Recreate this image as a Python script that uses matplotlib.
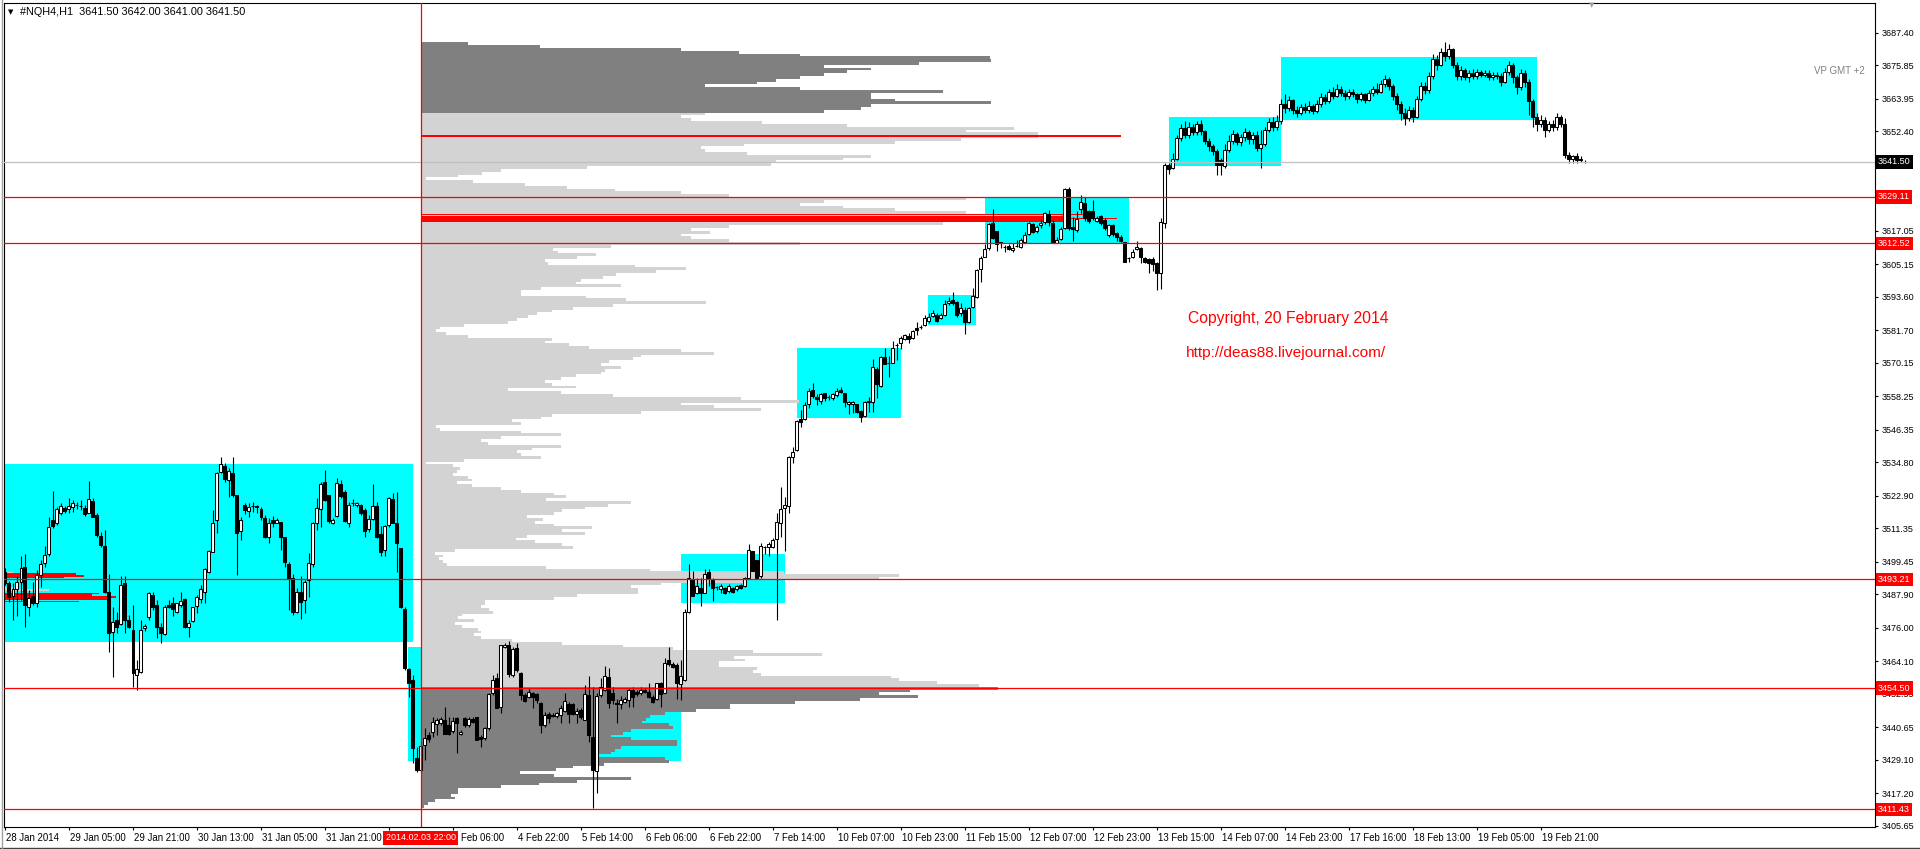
import numpy as np
import matplotlib
matplotlib.use('Agg')
import matplotlib.pyplot as plt
from matplotlib.patches import Rectangle
from matplotlib.lines import Line2D
from matplotlib.transforms import blended_transform_factory

plt.rcParams['font.family'] = ['Liberation Sans', 'DejaVu Sans']

# ---- #NQH4 hourly bars (28 Jan - 20 Feb 2014) ----
bar_open = [
    3495.9, 3491.8, 3487.3, 3489.8, 3492.4, 3497.7, 3483.5, 3487.3, 3484.7, 3494.7,
    3499.1, 3502.1, 3514.3, 3513.3, 3516.9, 3518.7, 3518.1, 3519.0, 3519.6, 3519.3,
    3518.4, 3516.9, 3521.0, 3516.1, 3508.7, 3505.0, 3488.8, 3474.6, 3478.8, 3477.3,
    3491.8, 3478.8, 3475.2, 3459.2, 3460.4, 3475.8, 3479.7, 3487.6, 3484.1, 3476.2,
    3473.8, 3484.1, 3484.7, 3481.4, 3484.0, 3486.1, 3476.2, 3478.3, 3483.7, 3486.1,
    3488.8, 3495.9, 3503.0, 3514.3, 3531.4, 3533.5, 3528.3, 3530.9, 3523.2, 3510.5,
    3519.6, 3517.6, 3519.3, 3519.0, 3518.1, 3515.1, 3508.4, 3514.3, 3513.3, 3513.5,
    3508.1, 3498.6, 3493.6, 3481.4, 3488.8, 3485.9, 3493.0, 3498.6, 3513.3, 3518.1,
    3527.7, 3523.2, 3513.3, 3515.7, 3527.0, 3524.3, 3513.3, 3520.2, 3519.5, 3519.6,
    3517.8, 3511.0, 3514.5, 3519.4, 3509.3, 3503.6, 3512.5, 3521.7, 3513.1, 3504.2,
    3482.7, 3461.2, 3457.4, 3429.6, 3425.5, 3434.3, 3437.9, 3439.0, 3441.8, 3442.0,
    3443.2, 3441.4, 3439.4, 3443.8, 3438.2, 3443.8, 3441.4, 3443.6, 3444.2, 3437.1,
    3436.7, 3440.2, 3452.7, 3458.0, 3447.9, 3469.0, 3469.9, 3459.2, 3468.7, 3460.0,
    3452.1, 3451.5, 3452.9, 3452.4, 3449.4, 3441.4, 3445.3, 3445.0, 3444.6, 3445.0,
    3446.5, 3448.9, 3448.9, 3445.3, 3446.8, 3443.2, 3452.1, 3437.3, 3425.2, 3452.1,
    3453.9, 3458.6, 3452.7, 3449.4, 3448.9, 3449.7, 3450.3, 3453.9, 3453.3, 3452.7,
    3453.9, 3453.3, 3451.5, 3450.5, 3456.5, 3452.9, 3464.5, 3463.1, 3462.7, 3456.0,
    3457.4, 3481.4, 3493.0, 3488.2, 3490.2, 3488.5, 3495.7, 3493.0, 3490.6, 3489.8,
    3490.2, 3489.0, 3490.0, 3489.7, 3491.2, 3490.8, 3493.6, 3503.4, 3500.1, 3494.2,
    3504.8, 3504.6, 3504.8, 3507.4, 3513.1, 3518.4, 3519.2, 3536.5, 3539.1, 3550.2,
    3550.0, 3555.4, 3560.5, 3558.1, 3556.7, 3559.5, 3558.1, 3557.5, 3558.7, 3560.5,
    3559.3, 3555.5, 3555.5, 3555.5, 3553.0, 3551.3, 3556.1, 3556.3, 3567.9, 3561.9,
    3572.3, 3570.0, 3570.2, 3576.5, 3577.0, 3578.5, 3579.6, 3578.8, 3582.4, 3582.7,
    3583.5, 3585.1, 3586.7, 3587.1, 3585.9, 3587.1, 3591.2, 3592.4, 3591.8, 3587.7,
    3588.9, 3584.7, 3589.8, 3593.6, 3603.3, 3607.8, 3611.0, 3619.9, 3617.0, 3612.8,
    3611.2, 3611.7, 3610.2, 3611.6, 3611.4, 3613.2, 3615.9, 3619.4, 3617.0, 3619.1,
    3620.3, 3622.9, 3619.7, 3612.8, 3614.0, 3617.9, 3631.7, 3618.3, 3617.3, 3624.6,
    3627.0, 3624.2, 3624.0, 3620.6, 3622.3, 3620.9, 3615.5, 3619.1, 3616.1, 3614.9,
    3613.2, 3607.3, 3607.8, 3610.6, 3610.8, 3607.2, 3606.9, 3606.9, 3605.7, 3602.1,
    3619.7, 3640.4, 3639.2, 3642.4, 3650.0, 3653.5, 3651.0, 3654.0, 3652.0, 3655.0,
    3652.5, 3649.0, 3647.0, 3645.5, 3642.0, 3640.0, 3645.7, 3649.0, 3651.5, 3648.5,
    3650.5, 3652.0, 3649.5, 3651.0, 3646.5, 3648.0, 3653.0, 3655.5, 3654.0, 3656.0,
    3662.0, 3660.5, 3663.5, 3660.0, 3659.0, 3661.0, 3660.0, 3661.5, 3659.5, 3662.0,
    3664.5, 3663.0, 3666.5, 3665.0, 3667.5, 3666.0, 3665.0, 3666.5, 3665.5, 3664.0,
    3665.5, 3663.5, 3666.0, 3667.5, 3666.5, 3669.0, 3671.0, 3668.5, 3665.0, 3662.0,
    3659.0, 3657.0, 3660.0, 3657.5, 3664.0, 3668.5, 3667.0, 3672.0, 3678.0, 3676.0,
    3680.5, 3679.0, 3681.5, 3676.0, 3672.0, 3674.0, 3671.5, 3673.0, 3672.0, 3673.5,
    3672.5, 3673.0, 3671.5, 3672.5, 3672.0, 3670.0, 3673.5, 3676.0, 3671.5, 3668.0,
    3673.0, 3670.0, 3663.0, 3657.5, 3655.0, 3656.5, 3653.0, 3655.0, 3654.0, 3657.5,
    3655.0, 3644.0, 3642.5, 3643.5, 3642.0, 3641.5]
bar_high = [
    3497.1, 3492.5, 3491.8, 3494.2, 3501.3, 3502.2, 3489.4, 3492.4, 3496.5, 3500.1,
    3505.0, 3515.5, 3524.7, 3519.0, 3520.2, 3519.3, 3522.0, 3521.4, 3520.8, 3521.4,
    3519.6, 3528.1, 3522.0, 3516.6, 3510.1, 3510.7, 3495.1, 3483.5, 3481.7, 3494.2,
    3494.4, 3480.5, 3484.1, 3464.6, 3478.8, 3477.3, 3488.8, 3488.8, 3485.9, 3477.8,
    3484.1, 3485.9, 3487.0, 3484.9, 3488.8, 3486.5, 3478.8, 3483.5, 3487.6, 3491.2,
    3497.1, 3503.6, 3517.8, 3531.4, 3536.5, 3534.4, 3532.6, 3536.5, 3523.2, 3515.5,
    3520.2, 3520.2, 3520.8, 3519.6, 3518.8, 3516.1, 3514.9, 3515.7, 3514.9, 3513.7,
    3508.4, 3499.5, 3495.1, 3490.0, 3494.2, 3493.0, 3502.7, 3513.7, 3522.0, 3527.9,
    3532.0, 3523.2, 3514.9, 3529.1, 3528.5, 3524.9, 3520.8, 3521.6, 3520.8, 3520.0,
    3518.4, 3516.1, 3527.1, 3520.8, 3512.2, 3512.5, 3522.3, 3524.0, 3524.3, 3504.2,
    3483.5, 3461.6, 3459.2, 3433.7, 3435.5, 3440.2, 3439.1, 3444.4, 3443.8, 3444.2,
    3447.9, 3444.4, 3444.2, 3444.2, 3439.6, 3444.4, 3444.4, 3444.2, 3444.4, 3437.9,
    3440.8, 3452.7, 3459.2, 3459.8, 3469.9, 3470.7, 3471.4, 3469.0, 3470.4, 3460.4,
    3452.7, 3454.5, 3453.3, 3452.7, 3449.7, 3446.2, 3446.2, 3445.6, 3446.2, 3448.5,
    3452.9, 3449.7, 3449.4, 3447.4, 3447.4, 3455.6, 3458.8, 3455.1, 3452.7, 3458.0,
    3462.4, 3461.6, 3455.0, 3450.5, 3451.7, 3451.3, 3454.5, 3455.1, 3453.9, 3455.1,
    3454.5, 3456.2, 3452.1, 3456.5, 3456.8, 3465.1, 3469.0, 3463.9, 3463.3, 3464.5,
    3482.5, 3498.5, 3496.3, 3493.6, 3493.6, 3496.8, 3496.9, 3493.6, 3490.8, 3491.5,
    3490.6, 3491.5, 3490.4, 3491.2, 3491.5, 3493.9, 3505.7, 3503.4, 3500.1, 3506.2,
    3505.0, 3506.6, 3507.8, 3516.9, 3526.1, 3522.6, 3537.0, 3540.1, 3549.8, 3553.4,
    3556.3, 3561.0, 3563.1, 3558.9, 3559.5, 3559.5, 3558.7, 3559.3, 3561.0, 3561.6,
    3559.5, 3556.7, 3556.7, 3555.5, 3553.3, 3556.7, 3558.1, 3571.4, 3568.5, 3572.5,
    3575.3, 3572.5, 3577.9, 3577.3, 3579.6, 3580.3, 3580.6, 3581.8, 3584.7, 3583.5,
    3587.1, 3587.7, 3588.9, 3587.7, 3587.7, 3592.4, 3593.4, 3595.4, 3592.2, 3591.2,
    3590.1, 3590.1, 3596.6, 3603.3, 3608.1, 3612.3, 3619.7, 3624.6, 3617.0, 3613.2,
    3612.0, 3612.3, 3612.6, 3613.7, 3614.3, 3616.7, 3620.3, 3619.9, 3619.1, 3621.1,
    3623.8, 3624.4, 3620.9, 3614.7, 3618.5, 3632.1, 3632.5, 3622.0, 3624.2, 3629.7,
    3629.1, 3624.4, 3628.0, 3622.3, 3622.6, 3621.4, 3619.4, 3619.4, 3616.7, 3615.5,
    3613.2, 3607.8, 3610.4, 3613.5, 3611.1, 3607.8, 3607.2, 3607.8, 3606.1, 3621.4,
    3641.2, 3641.2, 3644.5, 3651.0, 3655.0, 3656.0, 3655.5, 3655.0, 3656.0, 3656.5,
    3653.0, 3650.0, 3648.0, 3646.0, 3643.0, 3648.0, 3651.0, 3653.0, 3652.0, 3651.5,
    3653.5, 3653.0, 3652.0, 3652.5, 3653.0, 3654.0, 3657.0, 3657.5, 3658.0, 3664.0,
    3665.5, 3665.0, 3664.0, 3661.5, 3662.0, 3662.5, 3663.0, 3662.0, 3663.5, 3666.0,
    3665.5, 3667.5, 3668.0, 3669.0, 3668.5, 3667.0, 3667.5, 3667.5, 3666.0, 3666.5,
    3666.0, 3667.0, 3668.5, 3669.5, 3670.5, 3672.5, 3671.5, 3669.0, 3666.0, 3663.0,
    3660.5, 3661.5, 3661.0, 3665.0, 3670.0, 3670.0, 3673.5, 3680.0, 3679.5, 3682.0,
    3684.0, 3683.5, 3682.0, 3677.0, 3675.5, 3675.0, 3674.0, 3674.5, 3674.5, 3674.0,
    3674.0, 3674.0, 3673.5, 3673.5, 3673.0, 3675.0, 3677.5, 3676.5, 3672.5, 3674.5,
    3674.0, 3671.0, 3664.0, 3659.0, 3658.0, 3657.5, 3656.0, 3656.5, 3659.0, 3658.0,
    3657.0, 3645.0, 3644.0, 3644.5, 3643.5, 3642.0]
bar_low = [
    3491.2, 3485.3, 3478.8, 3480.0, 3485.9, 3476.4, 3480.0, 3484.1, 3483.5, 3490.6,
    3497.7, 3501.3, 3511.3, 3512.5, 3516.1, 3516.9, 3516.6, 3517.2, 3518.1, 3517.8,
    3515.7, 3516.6, 3515.5, 3508.4, 3504.8, 3488.2, 3467.2, 3458.6, 3474.0, 3477.0,
    3474.0, 3475.8, 3455.1, 3453.9, 3459.8, 3475.0, 3478.8, 3482.3, 3472.2, 3470.7,
    3473.4, 3482.9, 3480.0, 3481.1, 3483.5, 3475.8, 3472.6, 3477.9, 3481.1, 3484.7,
    3484.7, 3495.6, 3503.0, 3509.5, 3530.9, 3527.9, 3522.6, 3522.6, 3494.7, 3507.2,
    3516.3, 3515.5, 3517.2, 3516.6, 3514.3, 3507.8, 3506.0, 3511.9, 3513.1, 3503.6,
    3497.5, 3482.3, 3480.5, 3481.1, 3479.0, 3481.1, 3487.0, 3497.7, 3510.7, 3511.9,
    3521.1, 3513.1, 3512.9, 3515.5, 3522.0, 3513.7, 3511.9, 3519.3, 3519.0, 3516.1,
    3508.4, 3510.1, 3514.3, 3507.8, 3501.5, 3501.5, 3511.9, 3513.1, 3495.9, 3482.9,
    3461.0, 3451.5, 3427.8, 3424.9, 3424.3, 3429.0, 3435.5, 3437.3, 3437.9, 3441.4,
    3438.2, 3437.9, 3438.5, 3431.4, 3437.9, 3440.8, 3440.8, 3442.1, 3436.1, 3433.7,
    3436.1, 3439.6, 3452.1, 3447.4, 3445.6, 3468.7, 3458.6, 3458.6, 3460.4, 3450.3,
    3449.7, 3450.9, 3447.4, 3449.1, 3438.7, 3440.8, 3442.3, 3444.2, 3443.8, 3442.0,
    3446.2, 3442.0, 3445.0, 3442.0, 3443.4, 3443.2, 3435.5, 3411.8, 3417.2, 3451.5,
    3453.6, 3447.4, 3448.9, 3442.3, 3447.0, 3449.1, 3448.0, 3448.0, 3451.7, 3452.1,
    3452.9, 3450.9, 3449.4, 3450.3, 3448.0, 3452.7, 3462.4, 3461.6, 3450.5, 3450.3,
    3457.2, 3481.1, 3487.1, 3488.0, 3483.7, 3488.2, 3490.8, 3485.6, 3489.4, 3488.2,
    3488.0, 3488.2, 3488.5, 3489.1, 3489.7, 3490.6, 3493.2, 3496.0, 3493.6, 3493.6,
    3502.2, 3501.5, 3504.2, 3478.8, 3508.1, 3503.4, 3516.9, 3534.4, 3538.9, 3547.4,
    3549.8, 3554.0, 3557.5, 3555.1, 3555.5, 3556.7, 3556.9, 3556.9, 3558.1, 3559.3,
    3554.3, 3552.0, 3552.2, 3552.2, 3549.2, 3550.7, 3552.8, 3552.8, 3557.7, 3561.6,
    3569.6, 3565.0, 3569.9, 3571.1, 3574.9, 3578.2, 3577.3, 3578.5, 3580.0, 3582.0,
    3583.2, 3584.4, 3586.5, 3584.7, 3585.6, 3586.7, 3590.6, 3590.6, 3586.5, 3586.9,
    3580.4, 3584.2, 3589.5, 3593.1, 3598.9, 3607.6, 3610.2, 3614.0, 3610.0, 3610.8,
    3609.6, 3610.2, 3609.6, 3611.1, 3610.8, 3612.6, 3615.5, 3616.4, 3616.4, 3617.9,
    3619.4, 3618.7, 3612.8, 3612.6, 3613.7, 3617.5, 3617.3, 3613.5, 3616.7, 3623.2,
    3620.6, 3619.9, 3620.9, 3620.3, 3619.1, 3617.3, 3614.9, 3615.2, 3613.5, 3613.2,
    3606.1, 3606.1, 3607.2, 3610.2, 3605.5, 3605.5, 3601.9, 3602.9, 3596.0, 3596.2,
    3617.9, 3637.2, 3638.9, 3642.0, 3649.0, 3650.0, 3650.0, 3651.0, 3651.0, 3651.0,
    3648.0, 3645.5, 3644.0, 3636.8, 3636.8, 3639.5, 3645.0, 3648.0, 3647.5, 3647.0,
    3649.0, 3648.0, 3648.0, 3645.5, 3639.2, 3647.0, 3652.0, 3652.5, 3653.0, 3655.0,
    3659.0, 3659.5, 3658.5, 3657.5, 3658.0, 3659.0, 3659.0, 3658.5, 3659.0, 3661.0,
    3662.0, 3662.5, 3664.0, 3664.5, 3665.0, 3663.5, 3664.0, 3664.5, 3662.5, 3663.0,
    3662.5, 3663.0, 3665.0, 3665.5, 3666.0, 3668.0, 3667.0, 3663.5, 3660.0, 3656.5,
    3654.5, 3656.0, 3655.5, 3657.0, 3663.0, 3665.5, 3666.0, 3671.0, 3674.0, 3675.5,
    3677.5, 3678.0, 3675.0, 3670.5, 3670.5, 3670.5, 3670.0, 3671.0, 3671.0, 3671.5,
    3671.5, 3670.5, 3670.5, 3671.0, 3668.5, 3669.5, 3672.5, 3669.5, 3665.5, 3667.0,
    3668.0, 3658.0, 3654.0, 3652.5, 3654.0, 3650.5, 3652.0, 3652.5, 3653.0, 3654.0,
    3643.0, 3641.0, 3641.0, 3641.0, 3641.5, 3641.0]
bar_close = [
    3491.8, 3487.0, 3489.7, 3492.1, 3497.1, 3484.1, 3486.5, 3484.9, 3494.7, 3498.5,
    3501.8, 3511.7, 3512.1, 3518.1, 3519.3, 3517.6, 3519.3, 3520.2, 3519.7, 3519.2,
    3516.4, 3521.6, 3515.5, 3509.0, 3505.4, 3488.8, 3474.0, 3478.2, 3476.2, 3491.0,
    3478.8, 3476.4, 3459.8, 3461.2, 3475.2, 3476.6, 3488.2, 3483.5, 3476.4, 3474.0,
    3483.3, 3483.5, 3482.5, 3484.7, 3485.6, 3476.4, 3477.6, 3483.3, 3487.0, 3489.7,
    3496.8, 3503.4, 3513.3, 3530.9, 3534.1, 3528.7, 3531.7, 3523.2, 3509.8, 3514.3,
    3517.8, 3519.0, 3519.4, 3519.1, 3515.5, 3508.1, 3513.3, 3513.1, 3514.3, 3508.4,
    3499.5, 3493.2, 3481.7, 3488.6, 3485.3, 3492.4, 3499.1, 3513.1, 3518.4, 3527.1,
    3521.4, 3514.0, 3514.3, 3527.5, 3522.8, 3513.9, 3519.6, 3520.3, 3520.2, 3516.9,
    3510.5, 3514.5, 3519.3, 3508.4, 3503.0, 3512.2, 3522.0, 3513.3, 3506.0, 3483.5,
    3461.6, 3456.5, 3433.2, 3425.5, 3434.0, 3436.7, 3436.5, 3442.4, 3443.2, 3443.4,
    3438.2, 3438.2, 3443.0, 3442.0, 3439.0, 3441.4, 3443.4, 3442.6, 3436.1, 3436.3,
    3440.2, 3452.5, 3457.4, 3447.4, 3469.9, 3469.9, 3459.6, 3468.3, 3461.0, 3452.1,
    3450.1, 3453.0, 3451.3, 3450.3, 3441.4, 3445.0, 3443.8, 3444.6, 3445.6, 3447.4,
    3450.1, 3445.3, 3445.3, 3446.5, 3444.4, 3452.3, 3437.9, 3425.5, 3451.7, 3454.8,
    3458.8, 3449.1, 3450.3, 3448.9, 3450.3, 3450.5, 3453.9, 3451.3, 3452.5, 3453.9,
    3453.3, 3451.3, 3449.7, 3456.5, 3452.5, 3463.6, 3463.1, 3462.2, 3456.5, 3458.8,
    3481.7, 3493.6, 3487.3, 3490.8, 3488.2, 3495.0, 3493.2, 3490.0, 3490.5, 3490.8,
    3488.5, 3490.8, 3488.8, 3490.8, 3490.0, 3493.6, 3503.6, 3496.3, 3493.6, 3505.0,
    3504.7, 3505.8, 3507.2, 3513.4, 3518.1, 3519.6, 3536.8, 3538.3, 3549.4, 3549.2,
    3555.1, 3560.1, 3558.4, 3557.3, 3559.0, 3557.5, 3558.0, 3558.9, 3560.2, 3559.9,
    3556.1, 3556.1, 3556.3, 3552.5, 3551.0, 3556.3, 3556.5, 3568.5, 3562.5, 3572.3,
    3569.6, 3569.9, 3575.3, 3576.4, 3578.8, 3580.0, 3578.5, 3581.4, 3581.8, 3582.8,
    3585.9, 3586.5, 3587.7, 3585.1, 3587.1, 3591.0, 3592.2, 3591.5, 3587.1, 3589.5,
    3584.7, 3589.5, 3594.0, 3603.1, 3607.2, 3610.7, 3619.4, 3614.3, 3612.2, 3612.9,
    3611.1, 3610.6, 3611.0, 3611.7, 3613.7, 3615.5, 3619.7, 3616.7, 3618.3, 3619.9,
    3623.2, 3620.3, 3613.2, 3613.7, 3617.8, 3631.7, 3617.9, 3617.5, 3621.1, 3627.1,
    3621.4, 3620.6, 3621.4, 3621.7, 3619.7, 3617.9, 3619.1, 3615.9, 3614.7, 3613.5,
    3606.1, 3607.2, 3609.6, 3611.1, 3607.8, 3606.1, 3605.7, 3605.2, 3601.9, 3620.3,
    3640.4, 3638.9, 3642.4, 3650.0, 3653.5, 3651.0, 3654.0, 3652.0, 3655.0, 3652.5,
    3649.0, 3647.0, 3645.5, 3640.4, 3640.4, 3645.7, 3649.0, 3651.5, 3648.5, 3650.5,
    3652.0, 3649.5, 3651.0, 3646.5, 3648.0, 3653.0, 3655.5, 3654.0, 3656.0, 3662.0,
    3660.5, 3663.5, 3660.0, 3659.0, 3661.0, 3660.0, 3661.5, 3659.5, 3662.0, 3664.5,
    3663.0, 3666.5, 3665.0, 3667.5, 3666.0, 3665.0, 3666.5, 3665.5, 3664.0, 3665.5,
    3663.5, 3666.0, 3667.5, 3666.5, 3669.0, 3671.0, 3668.5, 3665.0, 3662.0, 3659.0,
    3657.0, 3660.0, 3657.5, 3664.0, 3668.5, 3667.0, 3672.0, 3678.0, 3676.0, 3680.5,
    3679.0, 3681.5, 3676.0, 3672.0, 3674.0, 3671.5, 3673.0, 3672.0, 3673.5, 3672.5,
    3673.0, 3671.5, 3672.5, 3672.0, 3670.0, 3673.5, 3676.0, 3671.5, 3668.0, 3673.0,
    3670.0, 3663.0, 3657.5, 3655.0, 3656.5, 3653.0, 3655.0, 3654.0, 3657.5, 3655.0,
    3644.0, 3642.5, 3643.5, 3642.0, 3642.5, 3641.5]

# time axis labels, one every 16 bars ('' = hidden under the red date tag)
time_labels = ['28 Jan 2014', '29 Jan 05:00', '29 Jan 21:00', '30 Jan 13:00', '31 Jan 05:00',
               '31 Jan 21:00', '', 'Feb 06:00', '4 Feb 22:00', '5 Feb 14:00',
               '6 Feb 06:00', '6 Feb 22:00', '7 Feb 14:00', '10 Feb 07:00', '10 Feb 23:00',
               '11 Feb 15:00', '12 Feb 07:00', '12 Feb 23:00', '13 Feb 15:00', '14 Feb 07:00',
               '14 Feb 23:00', '17 Feb 16:00', '18 Feb 13:00', '19 Feb 05:00', '19 Feb 21:00']
price_ticks = [3687.40, 3675.85, 3663.95, 3652.40, 3640.50, 3628.95, 3617.05, 3605.15,
               3593.60, 3581.70, 3570.15, 3558.25, 3546.35, 3534.80, 3522.90, 3511.35,
               3499.45, 3487.90, 3476.00, 3464.10, 3452.55, 3440.65, 3429.10, 3417.20, 3405.65]
hidden_ticks = [3640.50, 3628.95]

# horizontal levels
red_levels = [3629.11, 3612.52, 3493.21, 3454.50, 3411.43]
last_price = 3641.50
profile_start_bar = 104          # 2014.02.03 22:00
profile_start_label = '2014.02.03 22:00'

# cyan zones: (first bar, last bar, low, high)
zones = [(0.0, 102.0, 3470.9, 3534.2), (100.9, 104.0, 3428.5, 3469.1),
         (139.1, 169.1, 3428.6, 3447.6), (169.1, 195.1, 3484.9, 3502.2),
         (198.1, 224.0, 3550.6, 3575.4), (230.9, 242.9, 3583.7, 3594.2),
         (245.1, 281.1, 3612.52, 3629.11), (291.1, 319.1, 3640.2, 3657.3),
         (319.1, 383.1, 3656.4, 3678.6)]

# volume profile since the red line, one row per point, from 3683.5 down
vp_top = 3683.5
vp_volume = [
    47, 119, 260, 318, 379, 569, 570, 498, 403, 450, 426, 403, 379, 355, 336, 284, 379, 522, 450, 450,
    474, 570, 450, 440, 403, 284, 260, 270, 341, 426, 593, 545, 617, 617, 540, 474, 323, 280, 284, 326,
    450, 422, 355, 350, 166, 80, 61, 37, 5, 52, 104, 146, 194, 260, 308, 545, 403, 379, 422, 474,
    545, 640, 640, 640, 522, 308, 270, 289, 260, 270, 308, 379, 190, 132, 137, 175, 156, 124, 127, 214,
    265, 235, 195, 182, 160, 155, 200, 120, 100, 100, 165, 205, 285, 192, 152, 131, 116, 107, 96, 87,
    43, 19, 15, 25, 47, 131, 124, 148, 168, 260, 293, 220, 212, 188, 180, 200, 184, 180, 155, 140,
    124, 131, 155, 87, 140, 192, 320, 378, 260, 293, 340, 220, 131, 120, 91, 100, 15, 19, 100, 140,
    80, 60, 67, 140, 111, 96, 100, 120, 43, 5, 32, 39, 36, 32, 47, 51, 36, 51, 80, 100,
    133, 145, 125, 210, 187, 164, 141, 133, 106, 122, 114, 133, 171, 141, 164, 106, 95, 114, 141, 152,
    34, 14, 22, 18, 22, 26, 125, 229, 363, 478, 458, 324, 240, 210, 217, 217, 156, 133, 64, 64,
    60, 68, 72, 41, 37, 53, 34, 41, 57, 60, 53, 60, 91, 141, 202, 252, 332, 401, 313, 324,
    298, 298, 336, 332, 340, 470, 478, 516, 558, 577, 489, 458, 497, 439, 374, 309, 309, 275, 244, 229,
    225, 221, 248, 252, 210, 202, 190, 210, 256, 256, 200, 194, 190, 171, 244, 248, 183, 152, 135, 99,
    133, 210, 156, 118, 80, 37, 37, 30, 34, 14, 7, 3]
value_area = (3455.0, 3659.0)
# red rows inside the profile: (price, last bar, thickness in points)
vp_red_rows = [(3650.7, 279.0, 0.7), (3621.3, 264.7, 2.2), (3621.4, 278.0, 0.4), (3622.9, 269.5, 0.4)]

# older profile at the left edge: (price, length, is_red)
left_rows = [(3495.6, 9, False), (3495.0, 72, True), (3494.4, 80, True), (3493.9, 60, True),
             (3490.0, 15, False), (3489.4, 45, False), (3488.2, 95, True), (3487.5, 88, True),
             (3486.8, 112, True), (3486.1, 105, True), (3485.3, 75, True)]

W, H = 1920, 849
px_per_bar = 4.0
fig = plt.figure(figsize=(W / 100, H / 100), dpi=100)
ax = fig.add_axes([4 / W, 22 / H, 1871 / W, 824 / H])
x0 = -0.15
ax.set_xlim(x0, x0 + 1871 / px_per_bar)
ax.set_ylim(3405.19, 3697.95)

CYAN = '#00FFFF'
for b0, b1, lo, hi in zones:
    ax.add_patch(Rectangle((b0, lo), b1 - b0, hi - lo, facecolor=CYAN, edgecolor='none', zorder=1))

# volume profile
vol = np.array(vp_volume, dtype=float)
vp_prices = vp_top - np.arange(len(vol))
dark = (vp_prices > value_area[1]) | (vp_prices < value_area[0])
vp_colors = np.where(dark, '#808080', '#D3D3D3')
ax.barh(vp_prices, vol / px_per_bar, height=1.0, left=profile_start_bar,
        color=vp_colors, linewidth=0, zorder=2)
for p, end, th in vp_red_rows:
    ax.add_patch(Rectangle((profile_start_bar, p - th / 2), end - profile_start_bar, th,
                           facecolor='red', edgecolor='none', zorder=2.5))

for p, ln, is_red in left_rows:
    ax.add_patch(Rectangle((x0, p - 0.3), ln / px_per_bar, 0.6,
                           facecolor='red' if is_red else '#D3D3D3', edgecolor='none', zorder=2.5))

# candles
o = np.array(bar_open)
hi = np.array(bar_high)
lo = np.array(bar_low)
c = np.array(bar_close)
xb = np.arange(len(o))
up = c >= o
ax.vlines(xb, lo, hi, color='black', linewidth=0.8, zorder=4)
body_lo = np.minimum(o, c)
body_h = np.abs(c - o)
ax.bar(xb[up], body_h[up], bottom=body_lo[up], width=0.55, color='white',
       edgecolor='black', linewidth=0.75, zorder=5)
ax.bar(xb[~up], body_h[~up], bottom=body_lo[~up], width=0.55, color='black',
       edgecolor='black', linewidth=0.75, zorder=5)

# lines
for lv in red_levels:
    ax.axhline(lv, color='red', linewidth=0.9, zorder=6)
ax.axhline(last_price, color='#C0C0C0', linewidth=0.9, zorder=6)
ax.axvline(profile_start_bar, color='red', linewidth=0.9, zorder=6)

# axes styling
for s in ax.spines.values():
    s.set_color('black')
    s.set_linewidth(0.8)
ax.yaxis.tick_right()
ax.set_yticks(price_ticks)
ax.set_yticklabels(['' if t in hidden_ticks else '%.2f' % t for t in price_ticks])
ax.tick_params(axis='y', length=2.5, width=0.8, pad=2.5, labelsize=6.5, colors='black')

tick_bars = [16 * i for i in range(len(time_labels))]
ax.set_xticks(tick_bars)
ax.set_xticklabels([])
ax.tick_params(axis='x', length=2.5, width=0.8, colors='black')
tr_x = blended_transform_factory(ax.transData, fig.transFigure)
for b, lab in zip(tick_bars, time_labels):
    if not lab:
        continue
    shift = 2.0 if lab.startswith('Feb') else 0.4
    ax.text(b + shift, 1 - 838 / H, lab, transform=tr_x, ha='left', va='center',
            fontsize=6.9, clip_on=False)

# price tags on the scale
tr_y = blended_transform_factory(fig.transFigure, ax.transData)
for lv in red_levels:
    ax.text(1878 / W, lv, '%.2f' % lv, transform=tr_y, ha='left', va='center', fontsize=6.5,
            color='white', zorder=10, clip_on=False,
            bbox=dict(boxstyle='square,pad=0.25', facecolor='red', edgecolor='none'))
ax.text(1878 / W, last_price, '%.2f' % last_price, transform=tr_y, ha='left', va='center',
        fontsize=6.5, color='white', zorder=10, clip_on=False,
        bbox=dict(boxstyle='square,pad=0.25', facecolor='black', edgecolor='none'))

ax.text(profile_start_bar, 1 - 838 / H, profile_start_label, transform=tr_x, ha='center',
        va='center', fontsize=6.5, color='white', zorder=10, clip_on=False,
        bbox=dict(boxstyle='square,pad=0.3', facecolor='red', edgecolor='none'))

# header and annotations
fig.text(8 / W, 1 - 12 / H, '\u25bc', fontsize=5, family=['DejaVu Sans'], va='center')
fig.text(20 / W, 1 - 12 / H, '#NQH4,H1  3641.50 3642.00 3641.00 3641.50', fontsize=7.8, va='center')
fig.text(1865 / W, 1 - 71 / H, 'VP GMT +2', fontsize=7, color='#808080', ha='right', va='center')
fig.text(1188 / W, 1 - 318 / H, 'Copyright, 20 February 2014', fontsize=11.3, color='red', va='center')
fig.text(1186 / W, 1 - 353 / H, 'http://deas88.livejournal.com/', fontsize=11.1, color='red', va='center')
fig.text(1592 / W, 1 - 5 / H, '\u25bc', fontsize=5, family=['DejaVu Sans'], color='#A0A0A0',
         ha='center', va='center')
fig.add_artist(Line2D([0, 1], [1.5 / H, 1.5 / H], color='#404040', linewidth=1))
fig.add_artist(Line2D([1.5 / W, 1.5 / W], [0, 1], color='#A0A0A0', linewidth=1))

fig.savefig('out.png', dpi=100)
